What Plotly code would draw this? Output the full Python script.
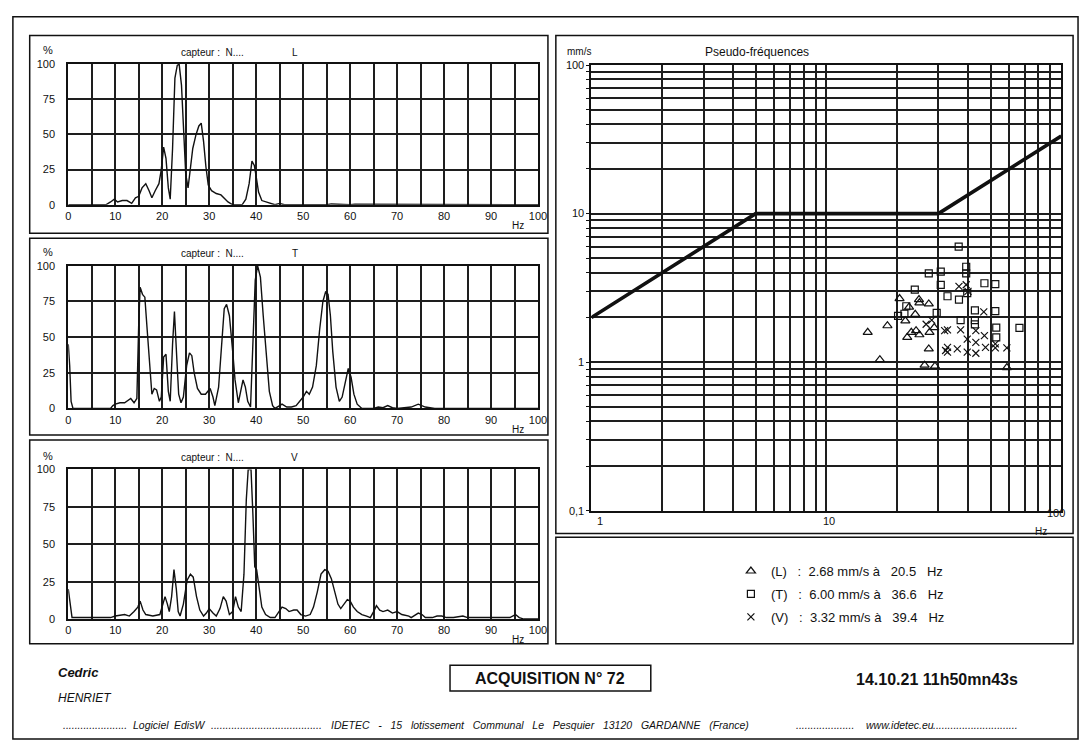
import plotly.graph_objects as go

W, H = 1090, 751
FONT = "Liberation Sans, Arial, sans-serif"
INK = "#111111"


def fx(x):
    return x / W


def fy(y):
    return 1 - y / H


# ---- Spectra: relative amplitude (%) against frequency (Hz) ----
l_freq = [0, 8, 9, 9.8, 10.5, 11.5, 12.5, 13.5, 14.3, 15,
          15.7, 16.5, 17.2, 17.8, 18.5, 19.3, 19.8, 20.3, 20.8, 21.3,
          21.7, 22.2, 22.7, 23.2, 23.6, 24.1, 24.6, 25.0, 25.5, 26.0,
          26.5, 27.2, 27.8, 28.3, 28.8, 29.3, 29.8, 30.5, 31.5, 32.5,
          33.3, 34, 35, 37, 37.8, 38.5, 39.1, 39.6, 40, 40.5,
          41.2, 42, 43, 44, 45, 46, 55, 56, 60, 61, 100]
l_amp = [0, 0, 2, 4, 2, 3, 3, 1, 5, 6,
         12, 15, 10, 5, 10, 15, 25, 41, 33, 12,
         4, 40, 90, 99, 100, 85, 50, 22, 12, 25,
         40, 50, 56, 58, 45, 27, 14, 10, 8, 7,
         4, 2, 0, 0, 4, 15, 31, 28, 20, 9,
         3, 2, 1, 0, 1, 0, 0, 0.6, 0, 0.4, 0]

t_freq = [0, 0.3, 0.6, 1, 9, 9.5, 10, 11, 12, 12.8,
          13.3, 14, 14.6, 15.0, 15.3, 15.8, 16.3, 16.8, 17.3, 17.8,
          18.3, 18.8, 19.4, 19.8, 20.3, 20.8, 21.3, 21.7, 22.2, 22.6,
          23.1, 23.5, 24, 24.5, 25.2, 25.8, 26.3, 26.8, 27.5, 28.3,
          29.2, 30.2, 30.8, 31.2, 32.0, 32.6, 33.2, 33.7, 34.3, 35,
          35.5, 36.2, 36.7, 37.2, 37.7, 38.2, 38.8, 39.3, 39.8, 40.3,
          40.9, 41.5, 42.2, 42.8, 43.5, 44, 45, 45.5, 46.5, 47.5,
          48.5, 49.3, 50, 50.7, 51.3, 52, 52.8, 53.5, 54.2, 54.8,
          55.3, 55.8, 56.3, 57, 57.7, 58.3, 59, 59.6, 60.2, 60.8,
          61.5, 62.5, 65, 66, 67, 68, 69, 70, 73, 74.5,
          76, 78, 100]
t_amp = [45, 30, 5, 0, 0, 2, 3, 4, 4, 6,
         7, 4, 7, 60, 85, 80, 78, 55, 30, 10,
         14, 13, 5, 8, 36, 38, 12, 5, 45, 68,
         35, 10, 4, 8, 30, 39, 37, 25, 14, 10,
         10, 14, 8, 2, 15, 45, 70, 73, 65, 40,
         20, 4, 12, 20, 15, 5, 1, 40, 90, 100,
         92, 65, 35, 12, 2, 0, 2, 3, 1, 1,
         2, 5, 8, 12, 10, 15, 30, 55, 75, 82,
         80, 65, 40, 15, 5, 8, 20, 28, 22, 10,
         3, 0, 0, 1, 0.5, 2, 0.5, 0, 1, 3,
         1, 0, 0]

v_freq = [0, 0.4, 0.8, 9, 10, 12, 13, 14, 14.8, 15.3,
          15.9, 16.5, 18, 19.5, 20, 20.6, 21.1, 21.5, 22, 22.5,
          23, 23.4, 23.8, 24.5, 25.3, 26.0, 26.6, 27.3, 28, 28.8,
          29.4, 30, 30.8, 31.5, 32.3, 33, 33.6, 34.3, 35, 35.6,
          36.2, 36.8, 37.4, 37.9, 38.3, 38.9, 39.3, 39.7, 40.1, 40.6,
          41.2, 42, 43, 44, 44.8, 45.5, 46.3, 47, 48, 48.7,
          49.5, 50.5, 51.5, 52.2, 53, 53.8, 54.6, 55.3, 56, 56.7,
          57.4, 58, 58.7, 59.4, 60, 60.7, 61.5, 62.5, 63.5, 64.3,
          65, 65.6, 66.3, 67, 68, 69, 70, 71, 72.5, 73,
          74.5, 75.3, 76, 77.5, 78.5, 79.5, 80.5, 82, 84, 85,
          88, 90, 92, 94, 95.2, 96, 97, 100]
v_amp = [20, 10, 1, 1, 2, 3, 2, 5, 8, 12,
         6, 3, 2, 3, 8, 15, 10, 5, 15, 33,
         20, 5, 2, 10, 26, 30, 28, 15, 6, 2,
         4, 7, 4, 2, 7, 15, 12, 3, 5, 15,
         8, 5, 30, 80, 100, 100, 70, 35, 33, 20,
         8, 3, 1, 1, 5, 8, 7, 5, 6, 6,
         3, 2, 3, 8, 18, 30, 33, 32, 27, 18,
         10, 7, 10, 13, 12, 8, 5, 3, 2, 1,
         5, 9, 6, 5, 6, 4, 5, 3, 2, 1,
         4, 3, 1, 1, 2, 2, 1, 1, 2, 1,
         1, 1, 0.5, 1, 3, 1, 0, 0]

# ---- Pseudo-frequency chart: peak velocity (mm/s) against pseudo-frequency (Hz) ----
l_pf_freq = [15.0, 16.9, 18.2, 20.5, 21.7, 22.1, 22.5, 23.0, 23.9, 24.1,
             24.8, 24.9, 24.9, 26.2, 27.3, 27.3, 27.5, 28.8, 29.0, 58.7]
l_pf_vel = [1.59, 1.04, 1.76, 2.68, 1.90, 1.47, 2.35, 1.59, 2.10, 1.63,
            2.64, 2.51, 1.53, 0.955, 2.47, 1.23, 1.59, 1.71, 0.94, 0.92]

t_pf_freq = [20.2, 21.5, 21.9, 23.8, 27.3, 29.5, 30.7, 30.7, 32.8, 36.6,
             36.7, 37.3, 39.4, 39.4, 39.8, 42.9, 42.9, 42.9, 47.1, 52.4,
             52.4, 52.9, 52.9, 66.4]
t_pf_vel = [2.05, 2.12, 2.38, 3.08, 3.96, 2.15, 4.07, 3.32, 2.78, 6.00,
            2.64, 1.92, 4.39, 3.96, 2.92, 2.23, 1.92, 1.80, 3.40, 3.35,
            2.21, 1.71, 1.47, 1.70]

v_pf_freq = [26.6, 28.1, 31.9, 32.2, 32.8, 32.8, 32.8, 36.1, 36.7, 37.3,
             39.4, 39.8, 39.8, 40.1, 43.3, 43.3, 43.3, 46.8, 47.1, 47.6,
             52.4, 52.4, 58.7]
v_pf_vel = [1.80, 1.92, 1.63, 1.20, 1.65, 1.26, 1.17, 1.23, 3.24, 1.65,
            3.32, 1.43, 1.17, 3.00, 1.63, 1.36, 1.15, 2.18, 1.51, 1.26,
            1.33, 1.25, 1.25]

# Threshold curve
limit_freq = [1, 5, 30, 100]
limit_vel = [2, 10, 10, 33.3]

pct_ticks = [0, 25, 50, 75, 100]
hz_ticks = list(range(0, 101, 5))
log_x_ticks = [1, 2, 3, 4, 5, 6, 7, 8, 9, 10, 20, 30, 40, 50, 60, 70, 80, 90, 100]
log_y_ticks = [0.1, 0.2, 0.3, 0.4, 0.5, 0.6, 0.7, 0.8, 0.9,
               1, 2, 3, 4, 5, 6, 7, 8, 9, 10, 20, 30, 40, 50, 60, 70, 80, 90, 100]
log_y_labels = {0.1: "0,1", 1: "1", 10: "10", 100: "100"}

fig = go.Figure()

# spectra panels: (axis suffix, freq, amp, channel, plot top px, plot bottom px, box top, box bottom)
panels = [
    ("", l_freq, l_amp, "L", 59, 202, 30, 231),
    ("2", t_freq, t_amp, "T", 264, 409, 236, 436),
    ("3", v_freq, v_amp, "V", 471, 623, 441, 648),
]

shapes = []
annotations = []
nb = "\u00a0"


def text(x, y, s, size=10, anchor="center", bold=False, italic=False):
    if bold:
        s = "<b>" + s + "</b>"
    if italic:
        s = "<i>" + s + "</i>"
    annotations.append(dict(xref="paper", yref="paper", x=fx(x), y=fy(y), text=s,
                            showarrow=False, xanchor=anchor, yanchor="middle",
                            borderpad=0,
                            font=dict(family=FONT, size=size, color=INK)))


def box(x0, y0, x1, y1, width=1.5):
    shapes.append(dict(type="rect", xref="paper", yref="paper",
                       x0=fx(x0), y0=fy(y0), x1=fx(x1), y1=fy(y1),
                       line=dict(color=INK, width=width), layer="below"))


for suffix, fr, amp, ch, top, bottom, btop, bbot in panels:
    fig.add_trace(go.Scatter(x=fr, y=amp, mode="lines", showlegend=False,
                             line=dict(color=INK, width=1.4),
                             xaxis="x" + suffix, yaxis="y" + suffix))
    fig.update_layout(**{
        "xaxis" + suffix: dict(
            domain=[fx(66), fx(541)], range=[0, 100], anchor="y" + suffix,
            tickvals=hz_ticks, ticktext=[str(v) if v % 10 == 0 else "" for v in hz_ticks],
            showgrid=True, gridcolor="#1e1e1e", gridwidth=1.8, zeroline=False,
            showline=True, mirror=True, linecolor=INK, linewidth=2,
            tickfont=dict(family=FONT, size=11, color=INK), ticks=""),
        "yaxis" + suffix: dict(
            domain=[fy(bottom), fy(top)], range=[0, 100], anchor="x" + suffix,
            tickvals=pct_ticks, ticktext=[str(v) for v in pct_ticks],
            showgrid=True, gridcolor="#1e1e1e", gridwidth=1.8, zeroline=False,
            showline=True, mirror=True, linecolor=INK, linewidth=2,
            tickfont=dict(family=FONT, size=11, color=INK), ticks="",
            ticklabelstandoff=9),
    })
    box(27, btop, 551, bbot)
    text(45, top - 14, "%", size=11)
    text(212, top - 12, "capteur :  N....", size=10)
    text(295, top - 12, ch, size=10)
    text(521, bottom + 21, "Hz", size=10)

# pseudo-frequency chart
fig.add_trace(go.Scatter(x=limit_freq, y=limit_vel, mode="lines", showlegend=False,
                         line=dict(color=INK, width=3.6), xaxis="x4", yaxis="y4"))

i_l = l_pf_vel.index(max(l_pf_vel))
i_t = t_pf_vel.index(max(t_pf_vel))
i_v = v_pf_vel.index(max(v_pf_vel))
series = [
    ("L", l_pf_freq, l_pf_vel, i_l, "triangle-up-open", 8),
    ("T", t_pf_freq, t_pf_vel, i_t, "square-open", 7),
    ("V", v_pf_freq, v_pf_vel, i_v, "x-thin-open", 7),
]
for ch, fr, vel, imax, sym, size in series:
    label = (f"({ch}){nb}{nb}{nb}:{nb}{nb}{vel[imax]:.2f} mm/s à{nb}{nb}{nb}"
             f"{fr[imax]:.1f}{nb}{nb}{nb}Hz")
    fig.add_trace(go.Scatter(x=fr, y=vel, mode="markers", name=label, legendgroup=ch,
                             marker=dict(symbol=sym, size=size, color=INK,
                                         line=dict(color=INK, width=1.2)),
                             xaxis="x4", yaxis="y4"))

fig.update_layout(
    xaxis4=dict(type="log", domain=[fx(595), fx(1070)], range=[0, 2], anchor="y4",
                tickvals=log_x_ticks, ticktext=["" for _ in log_x_ticks],
                showgrid=True, gridcolor="#1e1e1e", gridwidth=1.5, zeroline=False,
                showline=True, mirror=True, linecolor=INK, linewidth=2, ticks=""),
    yaxis4=dict(type="log", domain=[fy(513), fy(60)], range=[-1, 2], anchor="x4",
                tickvals=log_y_ticks, ticktext=[log_y_labels.get(v, "") for v in log_y_ticks],
                showgrid=True, gridcolor="#1e1e1e", gridwidth=1.8, zeroline=False,
                showline=True, mirror=True, linecolor=INK, linewidth=2,
                ticks="outside", ticklen=3, tickcolor=INK,
                tickfont=dict(family=FONT, size=11, color=INK)),
)

for val, lx, ly in [(1, 604, 531), (10, 843, 531), (100, 1076, 523)]:
    annotations.append(dict(xref="paper", yref="paper", x=fx(lx), y=fy(ly), text=str(val),
                            showarrow=False, font=dict(family=FONT, size=11, color=INK)))
text(1050, 534, "Hz", size=10)
text(582, 46, "mm/s", size=10)
text(762, 47, "Pseudo-fréquences", size=12)

box(559, 30, 1082, 536)
box(559, 540, 1082, 648)

# page frame and footer
box(10, 11, 1087, 745, width=1.5)
text(55, 677, "Cedric", size=13, anchor="left", bold=True, italic=True)
text(55, 703, "HENRIET", size=12, anchor="left", italic=True)
box(452, 670, 655, 696, width=1.5)
text(553, 683, "ACQUISITION N° 72", size=16, bold=True)
text(944, 684, "14.10.21 11h50mn43s", size=16, bold=True)

# footer line, placed piece by piece along the bottom of the page
footer_pieces = [
    (60, "." * 22),
    (130, "Logiciel"),
    (172, "EdisW"),
    (209, "." * 38),
    (331, "IDETEC   -   15   lotissement   Communal   Le   Pesquier   13120   GARDANNE   (France)"),
    (801, "." * 20),
    (872, "www.idetec.eu"),
    (939, "." * 29),
]
for xpos, s in footer_pieces:
    text(xpos, 731, s.replace(" ", nb), size=10.5, anchor="left", italic=True)

fig.update_layout(
    width=W, height=H, margin=dict(l=0, r=0, t=0, b=0),
    paper_bgcolor="white", plot_bgcolor="white",
    shapes=shapes, annotations=annotations,
    showlegend=True,
    legend=dict(x=fx(736), y=fy(559), xanchor="left", yanchor="top",
                bgcolor="rgba(0,0,0,0)", tracegroupgap=3, itemwidth=30,
                font=dict(family=FONT, size=13, color=INK)),
)

fig.write_html("out.html",
               post_script="document.body.style.margin='0';document.body.style.overflow='hidden';")
